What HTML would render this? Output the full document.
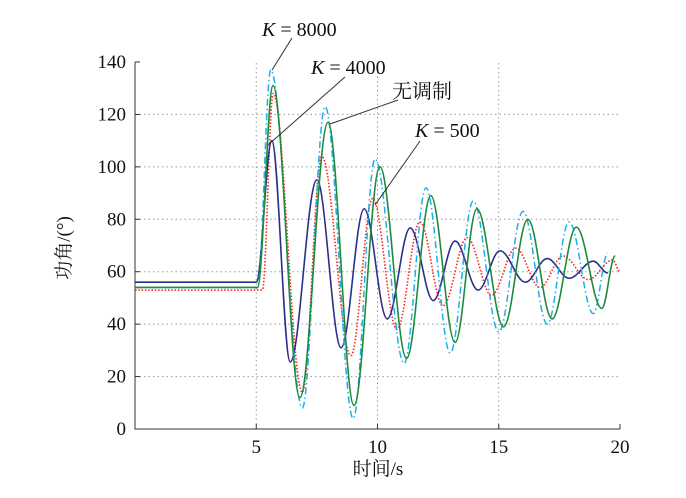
<!DOCTYPE html>
<html><head><meta charset="utf-8"><style>
body{margin:0;background:#fff}
text{font-family:"Liberation Serif","Noto Serif CJK SC",serif;fill:#111}
</style></head><body>
<svg id="chart" width="686" height="493" viewBox="0 0 686 493" xmlns="http://www.w3.org/2000/svg">
<g id="grid"></g>
<g id="axes"></g>
<g id="series"></g>
<g id="annot">
<text x="262" y="36" font-size="20"><tspan font-style="italic">K</tspan> = 8000</text>
<line x1="292" y1="38" x2="272" y2="70" stroke="#333" stroke-width="1"/>
<text x="311" y="74" font-size="20"><tspan font-style="italic">K</tspan> = 4000</text>
<line x1="345" y1="77" x2="268" y2="145" stroke="#333" stroke-width="1"/>
<text x="392" y="98" font-size="20">无调制</text>
<line x1="398" y1="100" x2="330" y2="124" stroke="#333" stroke-width="1"/>
<text x="415" y="137" font-size="20"><tspan font-style="italic">K</tspan> = 500</text>
<line x1="420" y1="141" x2="375" y2="205" stroke="#333" stroke-width="1"/>
<text x="378" y="475" font-size="19" text-anchor="middle">时间/s</text>
<text transform="translate(70,248) rotate(-90)" font-size="19" text-anchor="middle">功角/(°)</text>
</g>
</svg>
<script>
const xTicks=[5,10,15,20];
const yTicks=[0,20,40,60,80,100,120,140];
const cyanT=[0,5.05,5.6,6.9,7.84,9.0,9.9,11.1,12.0,13.0,13.95,15.0,16.0,17.0,17.9,18.9,19.5];
const cyanV=[54,54,137,8,123,4,103,25,92,29,87,37,83,40,79,44,67];
const greenT=[0,5.05,5.69,6.8,7.96,9.03,10.1,11.2,12.2,13.2,14.1,15.2,16.2,17.2,18.2,19.25,19.8];
const greenV=[54,54,131,12,117,9,100,27,89,33,84,39,80,42,77,46,66];
const redT=[0,5.25,5.7,6.9,7.7,8.9,9.8,10.8,11.75,12.7,13.7,14.7,15.7,16.7,17.65,18.7,19.7,20];
const redV=[53,53,128,14,104,28,88,38,79,47,73,51,69,54,66,57,64.5,60];
const blueT=[0,5.0,5.64,6.4,7.5,8.5,9.45,10.4,11.35,12.3,13.2,14.15,15.05,16.1,17.0,17.9,18.9,19.5];
const blueV=[56,56,110,25.6,95,31,84,42,76.7,49,71.7,53,68,56,65,57.5,64,59.5];
const NS="http://www.w3.org/2000/svg";
const X0=135,X1=620,Y0=429,Y1=62;
const sx=t=>X0+(X1-X0)*t/20;
const sy=v=>Y0-(Y0-Y1)*v/140;
function mk(tag,attrs,parent){const e=document.createElementNS(NS,tag);for(const k in attrs)e.setAttribute(k,attrs[k]);parent.appendChild(e);return e;}
const grid=document.getElementById('grid'),axes=document.getElementById('axes'),ser=document.getElementById('series');
xTicks.forEach(t=>{
 if(t<20){const g=mk('line',{x1:sx(t),x2:sx(t),y1:Y0,y2:Y1,stroke:'#999','stroke-dasharray':'1.5,3'},grid);
 
 }
 const tk=mk('line',{x1:sx(t),x2:sx(t),y1:Y0,y2:Y0-5,stroke:'#333'},axes);
 
 
 const l=mk('text',{x:sx(t),y:Y0+24,'font-size':19,'text-anchor':'middle'},axes);l.textContent=t;
 
 
});
yTicks.forEach(v=>{
 if(v>0&&v<140){const g=mk('line',{x1:X0,x2:X1,y1:sy(v),y2:sy(v),stroke:'#999','stroke-dasharray':'1.5,3'},grid);
 
 }
 const tk=mk('line',{x1:X0,x2:X0+5,y1:sy(v),y2:sy(v),stroke:'#333'},axes);
 
 
 const l=mk('text',{x:X0-9,y:sy(v)+6,'font-size':19,'text-anchor':'end'},axes);l.textContent=v;
 
 
});
const ax=mk('path',{d:`M${X0},${Y1}V${Y0}H${X1}`,fill:'none',stroke:'#333','stroke-width':1},axes);


function pathD(T,V){let d=`M${sx(T[0])},${sy(V[0])}`;
 for(let i=1;i<T.length;i++){const xa=sx(T[i-1]),xb=sx(T[i]),ya=sy(V[i-1]),yb=sy(V[i]);
  if(i===1){d+=`L${xb},${yb}`;continue;}
  const dx=(xb-xa)*0.36;d+=`C${xa+dx},${ya} ${xb-dx},${yb} ${xb},${yb}`;}
 return d;}
const defs=[[redT,redV,'#ff2020','1.6','1.5,1.8','series-k500'],[blueT,blueV,'#2b2f8c','1.6','','series-k4000'],[cyanT,cyanV,'#1ab0e8','1.5','7,3,1.5,3','series-k8000'],[greenT,greenV,'#1f8a3a','1.6','','series-no-modulation']];
defs.forEach(s=>{const p=mk('path',{d:pathD(s[0],s[1]),fill:'none',stroke:s[2],'stroke-width':s[3]},ser);
 if(s[4])p.setAttribute('stroke-dasharray',s[4]);
 
 });
</script>
</body></html>
